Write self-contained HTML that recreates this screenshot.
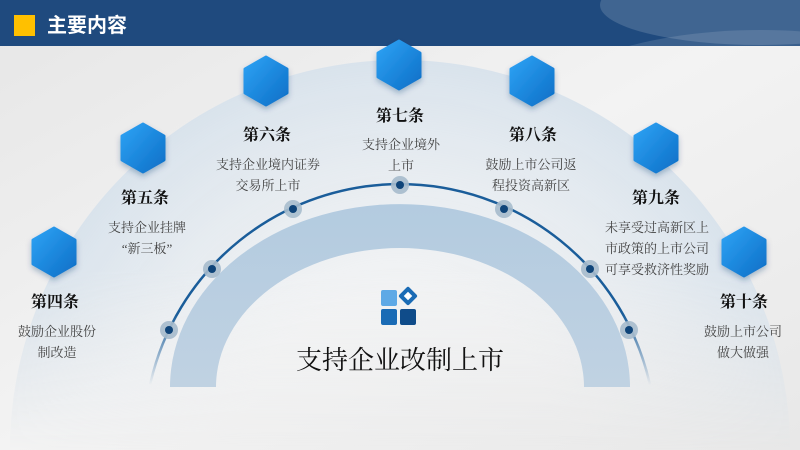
<!DOCTYPE html>
<html><head><meta charset="utf-8"><style>
body{margin:0;width:800px;height:450px;overflow:hidden;background:#ececec;font-family:"Liberation Sans","Noto Sans CJK SC",sans-serif}
.s{font-family:"Liberation Serif","Noto Serif CJK SC",serif}
</style></head><body>
<svg width="800" height="450" viewBox="0 0 800 450" xmlns="http://www.w3.org/2000/svg" style="display:block">
<defs>
<linearGradient id="bg" x1="0" y1="0" x2="1" y2="1"><stop offset="0" stop-color="#e6e6e6"/><stop offset="0.5" stop-color="#f3f3f3"/><stop offset="1" stop-color="#e8e8e8"/></linearGradient>
<radialGradient id="halo" cx="400" cy="450" r="390" gradientUnits="userSpaceOnUse"><stop offset="0.4" stop-color="#f1f3f5" stop-opacity="0.6"/><stop offset="1" stop-color="#d9e3ec"/></radialGradient>
<linearGradient id="hf" x1="0" y1="0" x2="0" y2="1"><stop offset="0.6" stop-color="#fff" stop-opacity="1"/><stop offset="1" stop-color="#fff" stop-opacity="0"/></linearGradient>
<mask id="hm"><rect width="800" height="450" fill="url(#hf)"/></mask>
<linearGradient id="band" x1="0" y1="0" x2="0" y2="1"><stop offset="0" stop-color="#b3cbe0"/><stop offset="1" stop-color="#c0d2e2"/></linearGradient>
<linearGradient id="hex" x1="0" y1="0" x2="1" y2="1"><stop offset="0" stop-color="#2ea3f5"/><stop offset="1" stop-color="#0d6fc7"/></linearGradient>
<linearGradient id="arc" x1="0" y1="1" x2="0" y2="0"><stop offset="0" stop-color="#1a5d9a" stop-opacity="0"/><stop offset="0.35" stop-color="#1a5d9a"/><stop offset="1" stop-color="#1a5d9a"/></linearGradient>
<filter id="sh" x="-50%" y="-50%" width="200%" height="200%"><feDropShadow dx="0" dy="3" stdDeviation="3" flood-color="#0a3a70" flood-opacity="0.3"/></filter>
<symbol id="h" viewBox="-21 -24 42 48" overflow="visible"><path d="M0,-24 L21,-12 L21,12 L0,24 L-21,12 L-21,-12 Z" fill="url(#hex)" stroke="url(#hex)" stroke-width="3" stroke-linejoin="round"/></symbol>
</defs>
<rect width="800" height="450" fill="url(#bg)"/>
<circle cx="400" cy="450" r="390" fill="url(#halo)" mask="url(#hm)"/>
<!-- band -->
<path d="M170,387 A230,183 0 0 1 630,387 L584,387 A184,139 0 0 0 216,387 Z" fill="url(#band)"/>
<!-- arc -->
<path d="M150,385 A256,256 0 0 1 650,385" fill="none" stroke="url(#arc)" stroke-width="2.5"/>
<g fill="#a7bccd" opacity="0.9">
<circle cx="169" cy="330" r="9"/><circle cx="212" cy="269" r="9"/><circle cx="293" cy="209" r="9"/><circle cx="400" cy="185" r="9"/><circle cx="504" cy="209" r="9"/><circle cx="590" cy="269" r="9"/><circle cx="629" cy="330" r="9"/>
</g>
<g fill="#0f4479">
<circle cx="169" cy="330" r="4"/><circle cx="212" cy="269" r="4"/><circle cx="293" cy="209" r="4"/><circle cx="400" cy="185" r="4"/><circle cx="504" cy="209" r="4"/><circle cx="590" cy="269" r="4"/><circle cx="629" cy="330" r="4"/>
</g>
<!-- header -->
<svg x="0" y="0" width="800" height="46">
<rect width="800" height="46" fill="#1f4a7e"/>
<ellipse cx="760" cy="5" rx="160" ry="40" fill="#fff" opacity="0.15"/>
<ellipse cx="760" cy="120" rx="230" ry="90" fill="#fff" opacity="0.12"/>
</svg>
<rect x="14" y="15" width="21" height="21" fill="#ffc000"/>
<text x="47" y="32" font-size="20" font-weight="bold" fill="#fff">主要内容</text>
<!-- hexagons -->
<g filter="url(#sh)">
<use href="#h" x="33" y="228" width="42" height="48"/>
<use href="#h" x="122" y="124" width="42" height="48"/>
<use href="#h" x="245" y="57" width="42" height="48"/>
<use href="#h" x="378" y="41" width="42" height="48"/>
<use href="#h" x="511" y="57" width="42" height="48"/>
<use href="#h" x="635" y="124" width="42" height="48"/>
<use href="#h" x="723" y="228" width="42" height="48"/>
</g>
<g class="s" text-anchor="middle" font-size="16" font-weight="bold" fill="#111">
<text x="55" y="307">第四条</text>
<text x="145" y="203">第五条</text>
<text x="267" y="140">第六条</text>
<text x="400" y="121">第七条</text>
<text x="533" y="140">第八条</text>
<text x="656" y="203">第九条</text>
<text x="744" y="307">第十条</text>
</g>
<g class="s" text-anchor="middle" font-size="13" fill="#444">
<text x="57" y="336">鼓励企业股份</text><text x="57" y="357">制改造</text>
<text x="147" y="232">支持企业挂牌</text><text x="147" y="253">“新三板”</text>
<text x="268" y="169">支持企业境内证券</text><text x="268" y="190">交易所上市</text>
<text x="401" y="149">支持企业境外</text><text x="401" y="170">上市</text>
<text x="531" y="169">鼓励上市公司返</text><text x="531" y="190">程投资高新区</text>
<text x="657" y="232">未享受过高新区上</text><text x="657" y="253">市政策的上市公司</text><text x="657" y="274">可享受救济性奖励</text>
<text x="743" y="336">鼓励上市公司</text><text x="743" y="357">做大做强</text>
</g>
<!-- icon -->
<rect x="381" y="290" width="16" height="16" rx="2" fill="#5ea9e6"/>
<rect x="381" y="309" width="16" height="16" rx="2" fill="#1a6bb5"/>
<rect x="400" y="309" width="16" height="16" rx="2" fill="#0f4c8a"/>
<rect x="401" y="289" width="14" height="14" rx="2" fill="#1a6bb5" transform="rotate(45 408 296)"/>
<rect x="405" y="293" width="6" height="6" fill="#fff" transform="rotate(45 408 296)"/>
<text class="s" x="400" y="369" text-anchor="middle" font-size="26" fill="#111">支持企业改制上市</text>
</svg>
</body></html>
